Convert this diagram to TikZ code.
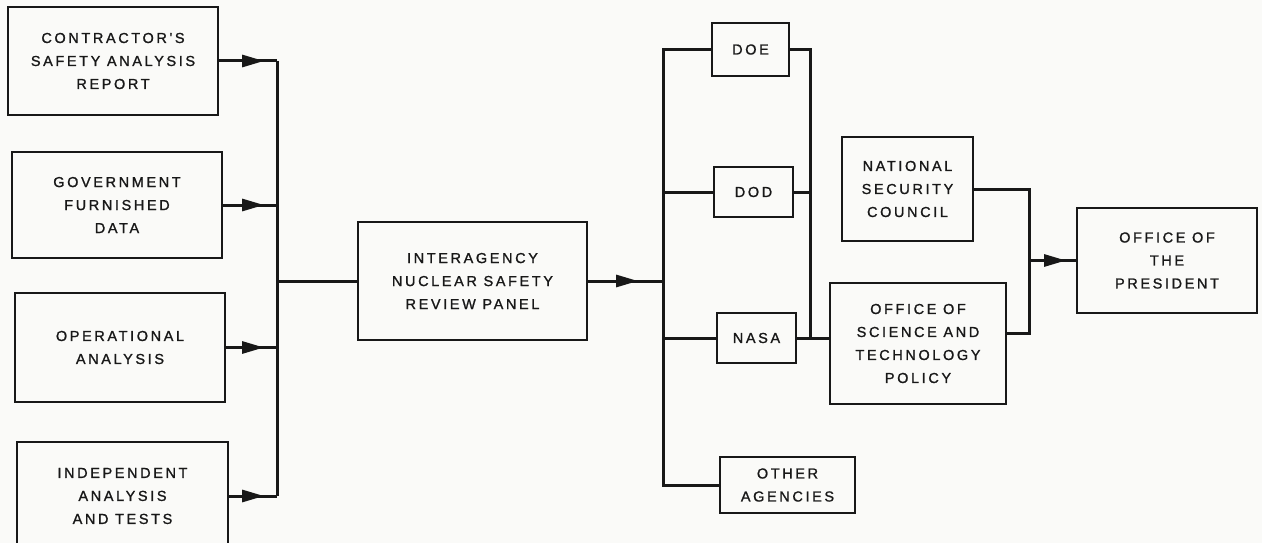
\documentclass[tikz,border=0pt]{standalone}
\usepackage{fontspec}
\newfontfamily\lbl{Liberation Sans}[LetterSpace=18,FakeBold=1.2]
\usetikzlibrary{arrows.meta,decorations.markings}
\definecolor{ink}{RGB}{24,24,24}
\definecolor{paper}{RGB}{250,250,248}
\begin{document}
\begin{tikzpicture}[x=1pt,y=-1pt,
  box/.style={draw=ink,line width=2pt,align=center,inner sep=0pt,text=ink,
    font={\lbl\fontsize{14.5}{23}\selectfont}},
  conn/.style={draw=ink,line width=3pt,line join=miter},
  tipat/.style={postaction={decorate},decoration={markings,
    mark=at position #1 with {\arrow{Triangle[length=22pt,width=12pt]}}}}]
\fill[paper] (0,0) rectangle (1262,543);
\useasboundingbox (0,0) rectangle (1262,543);
\clip (0,0) rectangle (1262,543);

% input boxes
\node[box,minimum width=210pt,minimum height=108pt] (b1) at (113,61) {CONTRACTOR'S\\SAFETY ANALYSIS\\REPORT};
\node[box,minimum width=210pt,minimum height=106pt] (b2) at (117,205) {GOVERNMENT\\FURNISHED\\DATA};
\node[box,minimum width=210pt,minimum height=109pt] (b3) at (120,347.5) {OPERATIONAL\\ANALYSIS};
\node[box,minimum width=211pt,minimum height=108pt] (b4) at (122.5,496) {INDEPENDENT\\ANALYSIS\\AND TESTS};

% panel
\node[box,minimum width=229pt,minimum height=118pt] (p) at (472.5,281) {INTERAGENCY\\NUCLEAR SAFETY\\REVIEW PANEL};

% agencies
\node[box,minimum width=77pt,minimum height=53pt] (doe) at (750.5,49.5) {DOE};
\node[box,minimum width=79pt,minimum height=50pt] (dod) at (753.5,192) {DOD};
\node[box,minimum width=79pt,minimum height=50pt] (nasa) at (756.5,338) {NASA};
\node[box,minimum width=135pt,minimum height=56pt] (oth) at (787.5,485) {OTHER\\AGENCIES};

% councils
\node[box,minimum width=131pt,minimum height=104pt] (nsc) at (907.5,189) {NATIONAL\\SECURITY\\COUNCIL};
\node[box,minimum width=176pt,minimum height=121pt] (ostp) at (918,343.5) {OFFICE OF\\SCIENCE AND\\TECHNOLOGY\\POLICY};
\node[box,minimum width=180pt,minimum height=105pt] (op) at (1167,260.5) {OFFICE OF\\THE\\PRESIDENT};

% left bus
\coordinate (lb) at (277,0);
\draw[conn,tipat=-13pt] (b1.east) -- (b1.east -| lb);
\draw[conn,tipat=-13pt] (b2.east) -- (b2.east -| lb);
\draw[conn,tipat=-13pt] (b3.east) -- (b3.east -| lb);
\draw[conn,tipat=-13pt] (b4.east) -- (b4.east -| lb);
\draw[conn] (b1.east -| lb) -- (b4.east -| lb);
\draw[conn] (p.west -| lb) -- (p.west);

% right bus
\coordinate (rb) at (663,0);
\draw[conn,tipat=-25pt] (p.east) -- (p.east -| rb);
\draw[conn] (doe.west) -- (doe.west -| rb) -- (oth.west -| rb) -- (oth.west);
\draw[conn] (dod.west) -- (dod.west -| rb);
\draw[conn] (nasa.west) -- (nasa.west -| rb);

% agencies to councils
\coordinate (rv) at (810,0);
\draw[conn] (doe.east) -- (doe.east -| rv) -- (nasa.east -| rv);
\draw[conn] (dod.east) -- (dod.east -| rv);
\draw[conn] (nasa.east) -- (ostp.west |- nasa.east);

% councils to president
\coordinate (pb) at (1029,0);
\coordinate (ostpo) at ([yshift=10.5pt]ostp.east);
\draw[conn] (nsc.east) -- (nsc.east -| pb) -- (ostpo -| pb) -- (ostpo);
\draw[conn,tipat=-10pt] (op.west -| pb) -- (op.west);
\end{tikzpicture}
\end{document}
